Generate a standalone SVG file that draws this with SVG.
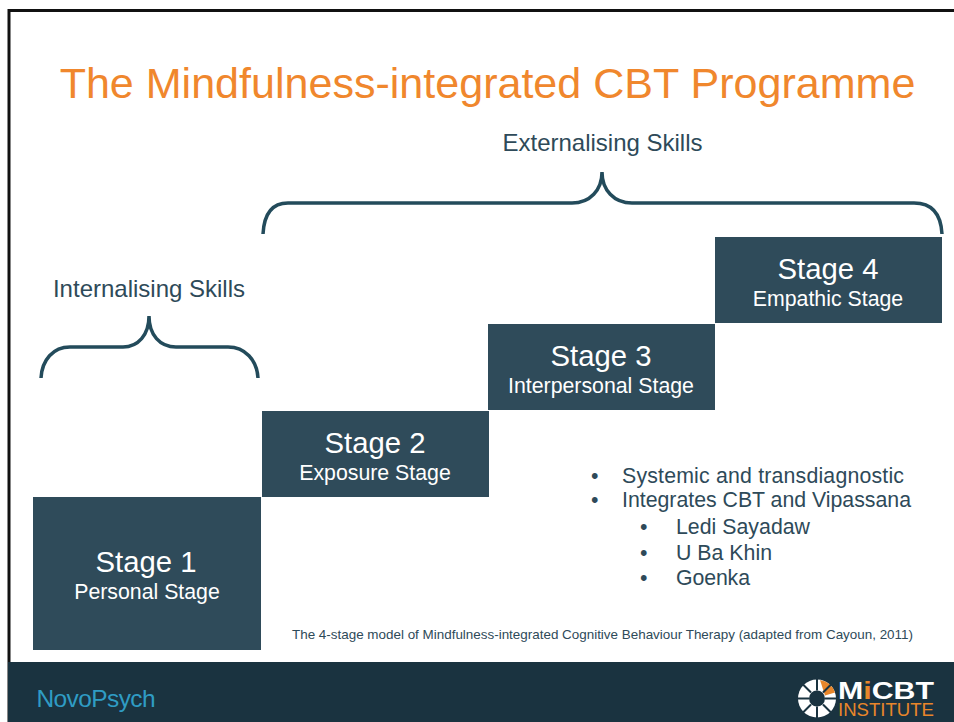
<svg xmlns="http://www.w3.org/2000/svg" width="954" height="722" viewBox="0 0 954 722">
<style>
text{font-family:"Liberation Sans",Arial,sans-serif;fill:#2e4a59}
.box{fill:#2f4b5a}
.h{fill:#fff;font-size:29.300px;text-anchor:middle}
.s{fill:#fff;font-size:21.300px;text-anchor:middle}
.lab{font-size:24px;text-anchor:middle}
.li{font-size:21.300px}
.brace{fill:none;stroke:#234b5b;stroke-width:3.5;stroke-linecap:butt}
</style>
<rect width="954" height="722" fill="#fff"/>
<path d="M9 722V10.500H954" fill="none" stroke="#111" stroke-width="3"/>
<text x="487.500" y="98" style="font-size:43.050px;fill:#f0872d;text-anchor:middle">The Mindfulness-integrated CBT Programme</text>
<g id="connectors">
<path class="brace" d="M263 234C264 215 271 203 288 203H572C590 203 602 190 602 172C602 190 614 203 632 203H914C933 203 941 215 942 234"/>
<path class="brace" d="M41 378C42 360 53 347 70 347H123C138 347 149 335 149 316C149 335 160 347 176 347H228C245 347 257 360 258 378"/>
</g>
<g id="label-external"><text class="lab" x="602.500" y="151">Externalising Skills</text></g>
<g id="label-internal"><text class="lab" x="149" y="297">Internalising Skills</text></g>
<g id="stage4"><rect class="box" x="715" y="237" width="227" height="86"/><text class="h" x="828" y="279">Stage 4</text><text class="s" x="828" y="306">Empathic Stage</text></g>
<g id="stage3"><rect class="box" x="488" y="324" width="227" height="86"/><text class="h" x="601" y="366">Stage 3</text><text class="s" x="601" y="393">Interpersonal Stage</text></g>
<g id="stage2"><rect class="box" x="262" y="411" width="227" height="86"/><text class="h" x="375" y="453">Stage 2</text><text class="s" x="375" y="480">Exposure Stage</text></g>
<g id="stage1"><rect class="box" x="33" y="497" width="228" height="153"/><text class="h" x="146" y="572">Stage 1</text><text class="s" x="147" y="599">Personal Stage</text></g>
<g id="notes">
<text class="li" x="591" y="483">•</text><text class="li" x="622" y="483" textLength="282">Systemic and transdiagnostic</text>
<text class="li" x="591" y="507">•</text><text class="li" x="622" y="507" textLength="289">Integrates CBT and Vipassana</text>
<text class="li" x="640" y="534">•</text><text class="li" x="676" y="534" textLength="134">Ledi Sayadaw</text>
<text class="li" x="640" y="560">•</text><text class="li" x="676" y="560" textLength="96">U Ba Khin</text>
<text class="li" x="640" y="585">•</text><text class="li" x="676" y="585" textLength="74">Goenka</text>
</g>
<text x="292" y="639" style="font-size:13.430px">The 4-stage model of Mindfulness-integrated Cognitive Behaviour Therapy (adapted from Cayoun, 2011)</text>
<g id="footer">
<rect x="8" y="662" width="946" height="60" fill="#1a3340"/>
<text x="36.500" y="706.500" style="font-size:24.500px;fill:#2f9cc4;letter-spacing:-.6px">NovoPsych</text>
<g id="logo">
<circle cx="817" cy="698.500" r="19" fill="#fff"/>
<path d="M820 680A19 19 0 0 1 835 692.500L825 695.500Z" fill="#e8862a"/>
<g stroke="#1a3340" stroke-width="2"><path d="M817 678.500V690.500M817 706.500V718.500M797 698.500H809M825 698.500H837M803 684.500L811 692.500M823 704.500L831 712.500M831 684.500L823 692.500M811 704.500L803 712.500"/></g>
<circle cx="817" cy="698.500" r="8" fill="#1a3340"/>
<text x="838" y="698.500" style="font-size:23px;font-weight:bold;fill:#fff" textLength="96" lengthAdjust="spacingAndGlyphs">M<tspan fill="#e8862a">i</tspan>CBT</text>
<text x="838" y="715.500" style="font-size:18.500px;fill:#e8862a" textLength="96" lengthAdjust="spacingAndGlyphs">INSTITUTE</text>
</g>
</g>
</svg>
